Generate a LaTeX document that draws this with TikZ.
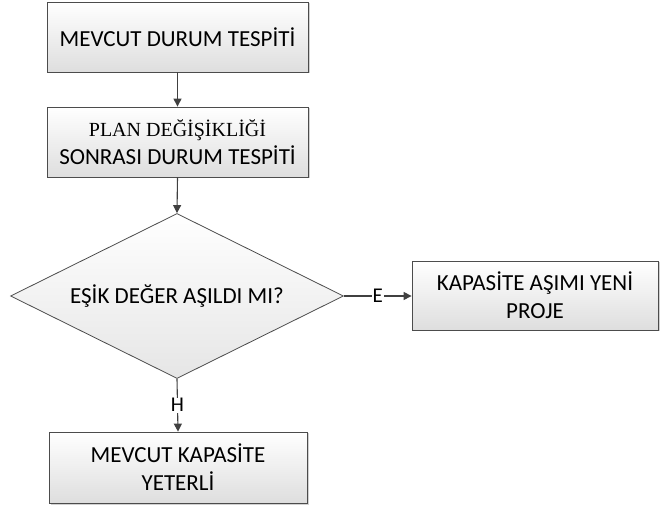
\documentclass[tikz,border=0pt]{standalone}
\usepackage{fontspec}
\setmainfont{Carlito}
\newfontfamily\serifx{Liberation Serif}
\usetikzlibrary{shapes.geometric,arrows.meta,shadows}
\begin{document}
\begin{tikzpicture}[x=1pt,y=1pt,
  flowbox/.style={draw=black!70, line width=0.8pt, top color=white, bottom color=black!13,
    drop shadow={shadow xshift=1.5pt, shadow yshift=-1.5pt, fill=black!30, opacity=0.6},
    align=center, font=\fontsize{23}{28}\selectfont, inner sep=0pt},
  decision/.style={diamond, draw=black!70, line width=0.8pt, top color=white, bottom color=black!10,
    font=\fontsize{23}{28}\selectfont, inner sep=0pt, shape aspect=2},
  link/.style={draw=black!75, line width=1.1pt, -{Triangle[length=8pt,width=8pt]}},
  tag/.style={fill=white, inner sep=1pt, font=\fontsize{21}{24}\selectfont}]
\useasboundingbox (0,0) rectangle (660,508);
\node[flowbox, minimum width=261pt, minimum height=70pt] (start) at (177.5,471) {MEVCUT DURUM TESPİTİ};
\node[flowbox, minimum width=261pt, minimum height=70pt] (plan) at (177.5,366)
  {{\serifx\fontsize{20}{28}\selectfont PLAN DEĞİŞİKLİĞİ}\\SONRASI DURUM TESPİTİ};
\node[decision, minimum width=333pt, minimum height=165pt] (check) at (177,212) {EŞİK DEĞER AŞILDI MI?};
\node[flowbox, minimum width=246pt, minimum height=69pt] (newproj) at (535,212.5) {KAPASİTE AŞIMI YENİ\\PROJE};
\node[flowbox, minimum width=258pt, minimum height=71pt] (enough) at (178,40.5) {MEVCUT KAPASİTE\\YETERLİ};
\draw[link] (start.south) -- (plan.north);
\draw[link] (plan.south) -- (check.north);
\draw[link] (check.east) -- node[tag] {E} (newproj.west |- check.east);
\draw[link] (check.south) -- node[tag, pos=0.5] {H} (enough.north);
\end{tikzpicture}
\end{document}
